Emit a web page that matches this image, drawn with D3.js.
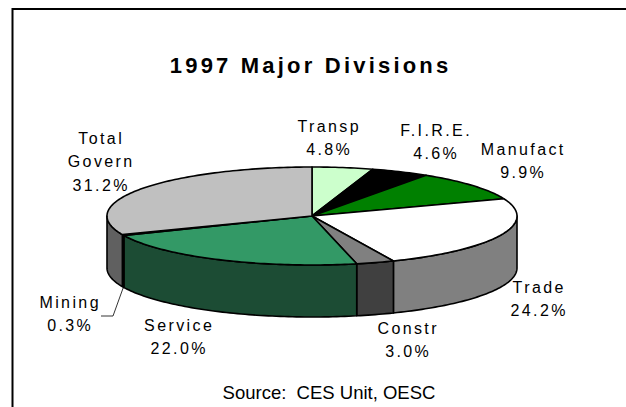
<!DOCTYPE html>
<html>
<head>
<meta charset="utf-8">
<script src="https://cdn.jsdelivr.net/npm/d3@7"></script>
<style>
  html, body { margin: 0; padding: 0; background: #fff; }
  svg { display: block; }
  text { font-family: "Liberation Sans", Arial, sans-serif; fill: #000; }
</style>
</head>
<body>
<div id="chart"></div>
<script>
// Data
const categories = ["Transp", "F.I.R.E.", "Manufact", "Trade", "Constr", "Service", "Mining", "Total Govern"];
const shares = [4.8, 4.6, 9.9, 24.2, 3.0, 22.0, 0.3, 31.2];
const labelLines = [["Transp"], ["F.I.R.E."], ["Manufact"], ["Trade"], ["Constr"], ["Service"], ["Mining"], ["Total", "Govern"]];

// Colours
const topColors = ["#ccffcc", "#000000", "#008000", "#ffffff", "#808080", "#339966", "#000000", "#c0c0c0"];
const sideColors = ["#668066", "#000000", "#004000", "#808080", "#404040", "#1c4c34", "#000000", "#606060"];

// Layout
const width = 626;
const height = 407;
const cx = 312;
const cy = 216;
const rx = 205;
const ry = 49;
const depth = 52;
const labelSpacing = 2.4;
// centre x and first baseline of each label
const labelX = [328, 435, 522, 538, 407, 178, 69, 100];
const labelY = [132, 136, 155, 293, 334, 331, 308, 144];
const lineGap = 23.3;

const svg = d3.select("#chart")
    .append("svg")
    .attr("width", width)
    .attr("height", height);

// Frame, open at the right and the bottom
svg.append("path")
    .attr("d", d3.line()([[12.5, height], [12.5, 9], [width, 9]]))
    .attr("fill", "none")
    .attr("stroke", "#000")
    .attr("stroke-width", 2);

// Title
svg.append("text")
    .attr("x", 309 + 1.6)
    .attr("y", 73)
    .attr("text-anchor", "middle")
    .attr("font-size", 22)
    .attr("font-weight", "bold")
    .style("letter-spacing", "3.2px")
    .text("1997 Major Divisions");

// Pie angles, clockwise from twelve o'clock
const pie = d3.pie().sort(null).value(d => d);
const slices = pie(shares);

const px = d3.scaleLinear().domain([-1, 1]).range([cx - rx, cx + rx]);
const py = d3.scaleLinear().domain([-1, 1]).range([cy - ry, cy + ry]);
const line = d3.line();

function rimPoints(a0, a1, drop) {
    const n = Math.max(2, Math.ceil((a1 - a0) / 0.02));
    return d3.range(n + 1).map(i => {
        const a = a0 + (a1 - a0) * i / n;
        return [px(Math.sin(a)), py(-Math.cos(a)) + drop];
    });
}

// Side walls, only the part that faces the viewer
const frontStart = Math.PI / 2;
const frontEnd = Math.PI * 3 / 2;

svg.append("g").selectAll("path")
    .data(slices.filter(d => d.endAngle > frontStart && d.startAngle < frontEnd))
    .enter()
    .append("path")
    .attr("d", d => {
        const a0 = Math.max(d.startAngle, frontStart);
        const a1 = Math.min(d.endAngle, frontEnd);
        return line(rimPoints(a0, a1, 0).concat(rimPoints(a0, a1, depth).reverse())) + "Z";
    })
    .attr("fill", d => sideColors[d.index])
    .attr("stroke", "#000")
    .attr("stroke-width", 1.6)
    .attr("stroke-linejoin", "round");

// Top faces
svg.append("g").selectAll("path")
    .data(slices)
    .enter()
    .append("path")
    .attr("d", d => line([[px(0), py(0)]].concat(rimPoints(d.startAngle, d.endAngle, 0))) + "Z")
    .attr("fill", d => topColors[d.index])
    .attr("stroke", "#000")
    .attr("stroke-width", 1.6)
    .attr("stroke-linejoin", "round");

// Leader line for Mining
const mining = slices[categories.indexOf("Mining")];
const miningAngle = (mining.startAngle + mining.endAngle) / 2;
const leaderEnd = [px(Math.sin(miningAngle)), py(-Math.cos(miningAngle)) + depth + 1];
svg.append("path")
    .attr("d", line([leaderEnd, [113, 316], [101, 316]]))
    .attr("fill", "none")
    .attr("stroke", "#000")
    .attr("stroke-width", 0.8);

// Labels: name lines, then the share
const labels = svg.append("g").selectAll("text")
    .data(categories)
    .enter()
    .append("text")
    .attr("text-anchor", "middle")
    .attr("font-size", 16)
    .style("letter-spacing", labelSpacing + "px");

labels.selectAll("tspan")
    .data((d, i) => labelLines[i].concat(shares[i].toFixed(1) + "%").map((t, j) => ({ t, j, i })))
    .enter()
    .append("tspan")
    .attr("x", d => labelX[d.i] + labelSpacing / 2)
    .attr("y", d => labelY[d.i] + d.j * lineGap)
    .text(d => d.t);

// Source note
svg.append("text")
    .attr("x", 329)
    .attr("y", 399)
    .attr("text-anchor", "middle")
    .attr("font-size", 18.5)
    .style("white-space", "pre")
    .text("Source:  CES Unit, OESC");
</script>
</body>
</html>
